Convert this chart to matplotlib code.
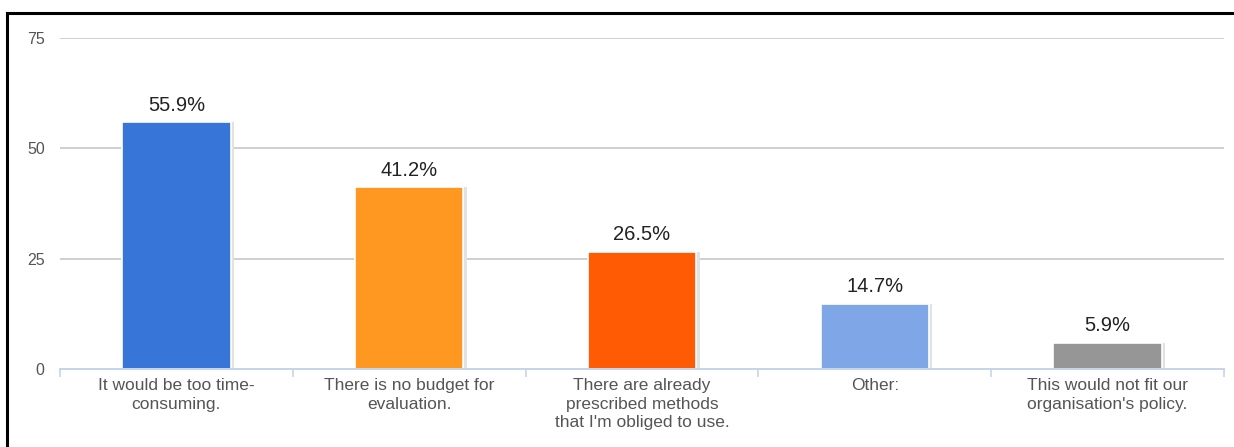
import matplotlib
matplotlib.use("Agg")
import matplotlib.pyplot as plt
import numpy as np
from matplotlib.lines import Line2D

plt.rcParams['font.family'] = ['Liberation Sans', 'DejaVu Sans']

categories = [
    "It would be too time-\nconsuming.",
    "There is no budget for\nevaluation.",
    "There are already\nprescribed methods\nthat I'm obliged to use.",
    "Other:",
    "This would not fit our\norganisation's policy.",
]
percent = [55.9, 41.2, 26.5, 14.7, 5.9]
colors = ["#3875d8", "#ff9821", "#ff5b05", "#7fa6e6", "#969696"]
y_ticks = [0, 25, 50, 75]

W, H = 1234, 447
fig = plt.figure(figsize=(W / 100, H / 100), dpi=100)
ax = fig.add_axes([60 / W, (H - 369) / H, (1224 - 60) / W, (369 - 38) / H])

x = np.arange(len(categories))
# soft shadow behind each bar, then the bar itself
ax.bar(x + 0.01, percent, width=0.475, color="#e2e2e2", zorder=2)
ax.bar(x, percent, width=0.465, color=colors, edgecolor="white", linewidth=1.2, zorder=3)

for xi, v in zip(x, percent):
    ax.annotate(f"{v}%", (xi, v), xytext=(0, 5.5), textcoords="offset points",
                ha="center", va="bottom", fontsize=14.5, color="#222222")

ax.set_xlim(-0.5, len(categories) - 0.5)
ax.set_ylim(0, 75)
ax.set_yticks(y_ticks)
ax.set_yticklabels([str(t) for t in y_ticks], fontsize=11.5, color="#555555")
ax.tick_params(axis="y", length=0, pad=11)
ax.grid(axis="y", color="#cccccc", linewidth=1.3, zorder=0)

ax.set_xticks(x)
ax.set_xticklabels(categories, fontsize=12.5, color="#555555", linespacing=1.3, va="top")
ax.tick_params(axis="x", which="major", length=0, pad=6.5)
ax.set_xticks(np.arange(len(categories) + 1) - 0.5, minor=True)
ax.tick_params(axis="x", which="minor", length=6, color="#c5d5e8", width=1.2)

for side in ["left", "right", "top"]:
    ax.spines[side].set_visible(False)
ax.spines["bottom"].set_color("#c5d5e8")
ax.spines["bottom"].set_linewidth(1.4)
ax.spines["bottom"].set_zorder(4)

# dark frame along the left and top edges
fig.add_artist(Line2D([6.5 / W, 6.5 / W], [0, 1 - 13 / H], color="black", linewidth=2.2,
                      transform=fig.transFigure))
fig.add_artist(Line2D([6.5 / W, 1], [1 - 13 / H, 1 - 13 / H], color="black", linewidth=2.2,
                      transform=fig.transFigure))

fig.savefig("out.png", dpi=100, facecolor="white")
